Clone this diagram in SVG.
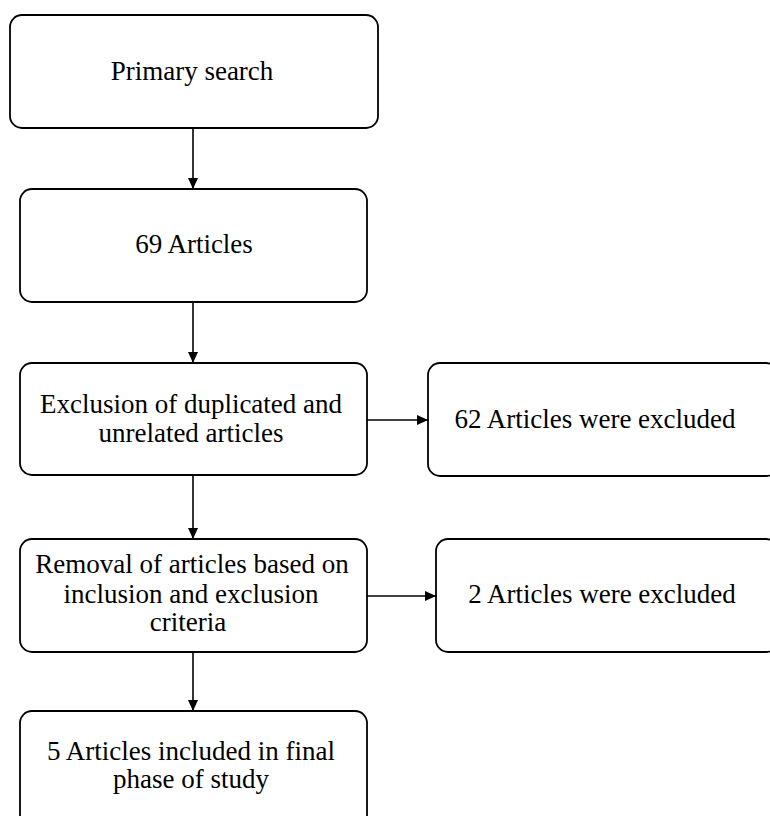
<svg xmlns="http://www.w3.org/2000/svg" width="770" height="816" viewBox="0 0 770 816">
<defs>
<style>
.box{fill:#fff;stroke:#000;stroke-width:1.8}
.t{font-family:"Liberation Serif","Times New Roman",serif;font-size:27px;fill:#000;text-anchor:middle}
.c{stroke:#000;stroke-width:1.6;fill:none;marker-end:url(#ah)}
</style>
<marker id="ah" viewBox="0 0 11 10" refX="11" refY="5" markerWidth="11" markerHeight="10" markerUnits="userSpaceOnUse" orient="auto">
<path d="M0,0 L11,5 L0,10 Z" fill="#000"/>
</marker>
</defs>
<rect width="770" height="816" fill="#fff"/>
<g id="connectors">
<line class="c" x1="193" y1="128" x2="193" y2="189"/>
<line class="c" x1="193" y1="302" x2="193" y2="363"/>
<line class="c" x1="193" y1="475" x2="193" y2="539"/>
<line class="c" x1="193" y1="652" x2="193" y2="711"/>
<line class="c" x1="367" y1="420" x2="428" y2="420"/>
<line class="c" x1="367" y1="596" x2="436" y2="596"/>
</g>
<g id="primary">
<rect class="box" x="10" y="15" width="368" height="113" rx="12"/>
<text class="t" x="192" y="80">Primary search</text>
</g>
<g id="articles69">
<rect class="box" x="20" y="189" width="347" height="113" rx="12"/>
<text class="t" x="194" y="253">69 Articles</text>
</g>
<g id="exclusion">
<rect class="box" x="20" y="363" width="347" height="112" rx="12"/>
<text class="t" x="191" y="413">Exclusion of duplicated and</text>
<text class="t" x="191" y="442">unrelated articles</text>
</g>
<g id="excluded62">
<rect class="box" x="428" y="363" width="350" height="113" rx="12"/>
<text class="t" x="595" y="428">62 Articles were excluded</text>
</g>
<g id="removal">
<rect class="box" x="20" y="539" width="347" height="113" rx="12"/>
<text class="t" x="192" y="573">Removal of articles based on</text>
<text class="t" x="191" y="603">inclusion and exclusion</text>
<text class="t" x="188" y="631">criteria</text>
</g>
<g id="excluded2">
<rect class="box" x="436" y="539" width="342" height="113" rx="12"/>
<text class="t" x="602" y="603">2 Articles were excluded</text>
</g>
<g id="final">
<rect class="box" x="20" y="711" width="347" height="120" rx="12"/>
<text class="t" x="191" y="760">5 Articles included in final</text>
<text class="t" x="191" y="788">phase of study</text>
</g>
</svg>
